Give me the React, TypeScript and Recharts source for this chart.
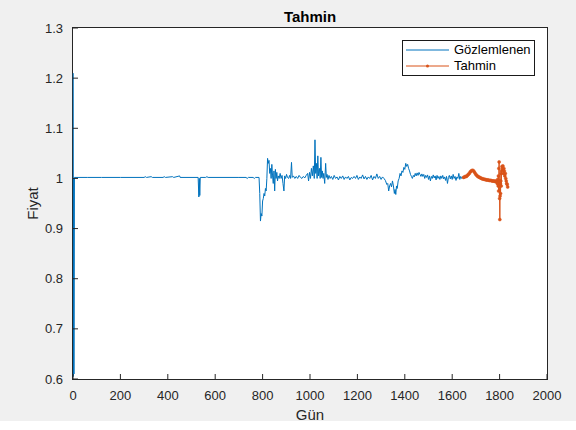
import { Legend, Line, LineChart, XAxis, YAxis } from 'recharts';

// [gün, fiyat] pairs
const observedPoints: [number, number][] = [
  [1, 1.21], [2, 0.605], [3, 1.0], [4, 0.61], [6, 1.002], [60, 1.002], [120, 1.002], [200, 1.002],
  [300, 1.002], [305, 1.0035], [310, 1.002], [330, 1.0035], [335, 1.002], [380, 1.002], [385, 1.0035],
  [390, 1.002], [420, 1.0035], [425, 1.002], [450, 1.005], [452, 1.002], [528, 1.002], [531, 0.963],
  [533, 1.0], [535, 0.966], [537, 1.002], [560, 1.002], [565, 1.0035], [570, 1.002], [700, 1.002],
  [730, 1.002], [735, 1.0], [740, 1.002], [760, 1.002], [765, 1.0], [770, 1.002], [785, 1.002],
  [788, 0.97], [791, 0.915], [794, 0.93], [797, 0.925], [800, 0.955], [803, 0.96], [806, 0.97],
  [809, 0.965], [812, 0.98], [815, 0.975], [818, 1.0], [821, 1.04], [824, 1.03], [827, 1.036],
  [830, 1.01], [833, 1.02], [836, 1.0], [839, 1.028], [842, 1.005], [845, 0.99], [848, 1.015],
  [851, 0.975], [854, 1.018], [857, 1.0], [860, 1.012], [863, 0.995], [866, 1.005], [870, 1.0],
  [874, 1.01], [878, 1.0], [882, 1.006], [886, 0.99], [890, 0.975], [893, 1.005], [897, 1.0],
  [901, 1.008], [905, 1.002], [910, 1.0], [914, 1.006], [918, 1.0], [922, 1.032], [925, 1.002],
  [930, 1.005], [936, 1.0], [942, 1.004], [948, 1.0], [954, 1.006], [960, 1.002], [966, 1.0],
  [972, 1.004], [978, 1.001], [984, 1.006], [990, 1.01], [994, 0.995], [998, 1.012], [1002, 1.0],
  [1006, 1.02], [1010, 1.005], [1014, 1.025], [1018, 1.0], [1021, 1.077], [1024, 1.01], [1027, 1.03],
  [1030, 1.0], [1033, 1.045], [1036, 1.005], [1040, 1.02], [1043, 1.0], [1046, 1.042], [1049, 1.002],
  [1052, 1.015], [1055, 1.0], [1058, 1.01], [1062, 0.99], [1066, 1.03], [1069, 1.002], [1072, 1.008],
  [1076, 0.998], [1080, 1.006], [1085, 1.0], [1090, 1.004], [1096, 0.998], [1102, 1.006], [1108, 1.0],
  [1114, 1.003], [1120, 0.997], [1126, 1.004], [1132, 1.0], [1138, 1.005], [1144, 0.998], [1150, 1.003],
  [1156, 1.0], [1162, 1.004], [1168, 0.997], [1174, 1.002], [1180, 1.0], [1186, 1.004], [1192, 1.0],
  [1198, 1.006], [1204, 0.998], [1210, 1.003], [1216, 1.0], [1222, 1.007], [1228, 0.999], [1234, 1.004],
  [1240, 0.998], [1246, 1.003], [1252, 1.0], [1258, 1.006], [1264, 0.997], [1270, 1.004], [1276, 1.0],
  [1282, 1.009], [1288, 1.0], [1294, 1.004], [1300, 0.998], [1306, 1.003], [1312, 1.0], [1318, 0.996],
  [1324, 0.988], [1328, 0.99], [1332, 0.975], [1336, 0.985], [1340, 0.99], [1344, 0.983], [1348, 0.995],
  [1352, 0.985], [1356, 0.97], [1359, 0.978], [1362, 0.968], [1365, 0.985], [1368, 0.98], [1372, 0.995],
  [1376, 1.0], [1380, 1.01], [1384, 1.005], [1388, 1.015], [1392, 1.012], [1396, 1.022], [1400, 1.018],
  [1404, 1.03], [1408, 1.024], [1412, 1.028], [1416, 1.02], [1420, 1.015], [1424, 1.008], [1428, 1.004],
  [1432, 1.0], [1436, 1.006], [1440, 1.003], [1444, 1.01], [1448, 1.005], [1452, 1.011], [1456, 1.006],
  [1460, 1.012], [1464, 1.008], [1468, 1.004], [1472, 1.009], [1476, 1.004], [1480, 1.008], [1484, 1.0],
  [1488, 1.006], [1492, 1.002], [1496, 1.007], [1500, 0.998], [1504, 1.005], [1508, 0.995], [1512, 1.004],
  [1516, 1.0], [1520, 1.007], [1524, 1.001], [1528, 1.005], [1532, 0.997], [1536, 1.006], [1540, 1.0],
  [1544, 1.004], [1548, 0.998], [1552, 1.005], [1556, 1.0], [1560, 1.006], [1564, 0.999], [1568, 1.003],
  [1572, 0.996], [1576, 1.004], [1580, 0.99], [1584, 1.002], [1588, 1.006], [1592, 0.999], [1596, 1.005],
  [1600, 0.998], [1604, 1.008], [1608, 1.0], [1612, 1.004], [1616, 0.996], [1620, 1.003], [1624, 1.0],
  [1628, 1.01], [1632, 0.998], [1636, 1.004], [1640, 1.0], [1644, 1.003], [1648, 1.002],
];

const forecastPoints: [number, number][] = [
  [1648, 1.002], [1652, 1.003], [1656, 1.004], [1660, 1.004], [1664, 1.006], [1668, 1.008], [1672, 1.01],
  [1676, 1.013], [1680, 1.015], [1684, 1.016], [1688, 1.016], [1692, 1.014], [1696, 1.011], [1700, 1.008],
  [1704, 1.006], [1708, 1.004], [1712, 1.003], [1716, 1.002], [1720, 1.001], [1724, 1.0], [1728, 0.999],
  [1732, 0.999], [1736, 0.998], [1740, 0.998], [1744, 0.997], [1748, 0.997], [1752, 0.997], [1756, 0.996],
  [1760, 0.996], [1764, 0.996], [1768, 0.995], [1772, 0.995], [1776, 0.995], [1780, 0.994], [1784, 0.995],
  [1788, 0.993], [1790, 0.99], [1792, 0.998], [1794, 0.985], [1795, 1.005], [1796, 0.975], [1797, 1.02],
  [1798, 1.033], [1799, 0.995], [1800, 0.96], [1801, 0.918], [1802, 0.965], [1803, 0.99], [1804, 0.97],
  [1805, 0.995], [1806, 1.01], [1807, 0.985], [1808, 1.015], [1810, 1.024], [1812, 1.018], [1814, 1.025],
  [1816, 1.01], [1818, 1.02], [1820, 1.015], [1822, 1.005], [1824, 1.01], [1826, 1.0], [1828, 0.995],
  [1830, 0.99], [1832, 0.988], [1834, 0.983],
];

const xTicks = [0, 200, 400, 600, 800, 1000, 1200, 1400, 1600, 1800, 2000];
const yTicks = [0.6, 0.7, 0.8, 0.9, 1, 1.1, 1.2, 1.3];
const seriesNames = ['Gözlemlenen', 'Tahmin'];
const seriesColors = ['#0072BD', '#D95319'];

const observed = observedPoints.map(([x, y]) => ({ x, y }));
const forecast = forecastPoints.map(([x, y]) => ({ x, y }));

const FONT = '"Liberation Sans", Arial, sans-serif';
const INK = '#262626';
const TICK_LEN = 5;
const X_GAP = 12;
const Y_GAP = 10;

// MATLAB draws tick marks inside the box, so each tick draws its own mark
function BottomTick({ x, y, payload }: any) {
  const axisY = y - X_GAP;
  return (
    <g>
      <line x1={x} x2={x} y1={axisY} y2={axisY - TICK_LEN} stroke={INK} />
      <text x={x} y={y} dy="0.71em" textAnchor="middle" fontSize={13} fill={INK} fontFamily={FONT}>
        {payload.value}
      </text>
    </g>
  );
}

function LeftTick({ x, y, payload }: any) {
  const axisX = x + Y_GAP;
  return (
    <g>
      <line x1={axisX} x2={axisX + TICK_LEN} y1={y} y2={y} stroke={INK} />
      <text x={x} y={y} dy="0.355em" textAnchor="end" fontSize={13} fill={INK} fontFamily={FONT}>
        {String(+Number(payload.value).toFixed(1))}
      </text>
    </g>
  );
}

function TopTick({ x, y }: any) {
  return <line x1={x} x2={x} y1={y} y2={y + TICK_LEN} stroke={INK} />;
}

function RightTick({ x, y }: any) {
  return <line x1={x} x2={x - TICK_LEN} y1={y} y2={y} stroke={INK} />;
}

function MatlabLegend() {
  return (
    <div
      style={{
        boxSizing: 'border-box',
        border: '1px solid #1a1a1a',
        background: '#fff',
        padding: '1px 0 1px 3px',
        fontSize: 13,
        lineHeight: '16px',
        color: '#000',
        fontFamily: FONT,
      }}
    >
      {seriesNames.map((name, i) => (
        <div key={name} style={{ display: 'flex', alignItems: 'center', height: 16 }}>
          <svg width={43} height={16} style={{ display: 'block' }}>
            <line x1={0} x2={43} y1={8} y2={8} stroke={seriesColors[i]} strokeWidth={1} />
            {i === 1 && <circle cx={21.5} cy={8} r={1.5} fill={seriesColors[i]} />}
          </svg>
          <span style={{ marginLeft: 5, whiteSpace: 'nowrap' }}>{name}</span>
        </div>
      ))}
    </div>
  );
}

function YTitle(props: any) {
  const { viewBox } = props;
  const cx = 32;
  const cy = viewBox.y + viewBox.height / 2;
  return (
    <text
      x={cx}
      y={cy}
      transform={`rotate(-90 ${cx} ${cy})`}
      textAnchor="middle"
      dominantBaseline="central"
      fontSize={15}
      fill={INK}
      fontFamily={FONT}
    >
      Fiyat
    </text>
  );
}

function PlotTitle(props: any) {
  const { viewBox } = props;
  return (
    <text
      x={viewBox.x + viewBox.width / 2}
      y={21.5}
      textAnchor="middle"
      fontSize={15}
      fontWeight="bold"
      fill="#000"
      fontFamily={FONT}
    >
      Tahmin
    </text>
  );
}

export default function App() {
  return (
    <div style={{ position: 'absolute', left: 0, top: 0, width: 576, height: 430, background: '#fff' }}>
      <div style={{ position: 'absolute', left: 0, top: 0, width: 576, height: 421, background: '#f0f0f0' }} />
      {/* axes box */}
      <div
        style={{
          position: 'absolute',
          left: 72,
          top: 27,
          width: 476,
          height: 353,
          boxSizing: 'border-box',
          border: `1px solid ${INK}`,
          background: '#fff',
        }}
      />
      <LineChart
        width={576}
        height={430}
        margin={{ top: 27, right: 28, left: 0, bottom: 0 }}
        style={{ position: 'absolute', left: 0, top: 0 }}
      >
        <XAxis
          type="number"
          dataKey="x"
          domain={[0, 2000]}
          ticks={xTicks}
          interval={0}
          height={51}
          tickSize={0}
          tickMargin={X_GAP}
          tickLine={false}
          axisLine={false}
          tick={<BottomTick />}
          label={{ value: 'Gün', position: 'insideBottom', offset: 10, fontSize: 15, fill: INK, fontFamily: FONT }}
        />
        <XAxis
          xAxisId="top"
          orientation="top"
          type="number"
          dataKey="x"
          domain={[0, 2000]}
          ticks={xTicks}
          interval={0}
          height={1}
          tickSize={0}
          tickMargin={0}
          tickLine={false}
          axisLine={false}
          tick={<TopTick />}
          label={<PlotTitle />}
        />
        <YAxis
          type="number"
          domain={[0.6, 1.3]}
          ticks={yTicks}
          interval={0}
          width={73}
          tickSize={0}
          tickMargin={Y_GAP}
          tickLine={false}
          axisLine={false}
          tick={<LeftTick />}
          label={<YTitle />}
        />
        <YAxis
          yAxisId="right"
          orientation="right"
          type="number"
          domain={[0.6, 1.3]}
          ticks={yTicks}
          interval={0}
          width={1}
          tickSize={0}
          tickMargin={0}
          tickLine={false}
          axisLine={false}
          tick={<RightTick />}
        />
        <Legend
          content={<MatlabLegend />}
          layout="horizontal"
          verticalAlign="middle"
          align="center"
          wrapperStyle={{ left: 402, top: 40, width: 133 }}
        />
        <Line
          data={observed}
          dataKey="y"
          name={seriesNames[0]}
          stroke={seriesColors[0]}
          strokeWidth={1}
          dot={false}
          isAnimationActive={false}
        />
        <Line
          data={forecast}
          dataKey="y"
          name={seriesNames[1]}
          stroke={seriesColors[1]}
          strokeWidth={1}
          dot={{ r: 1.5, fill: seriesColors[1], stroke: seriesColors[1], strokeWidth: 0.5 }}
          isAnimationActive={false}
        />
      </LineChart>
    </div>
  );
}
